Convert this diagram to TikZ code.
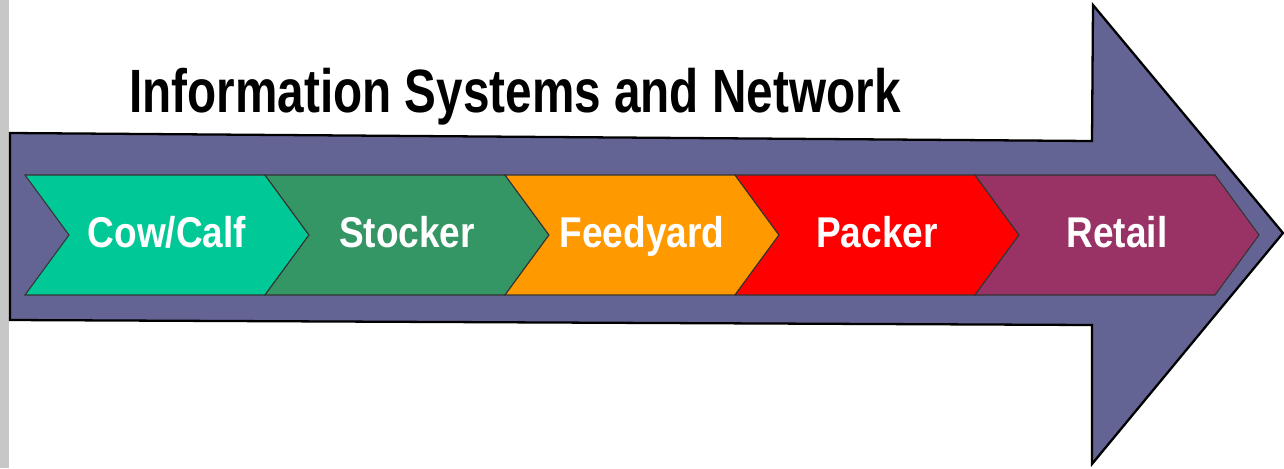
\documentclass[tikz,border=0pt]{standalone}
\usepackage{fontspec}
\setmainfont{Liberation Sans}
\usetikzlibrary{positioning}
\definecolor{flowpurple}{RGB}{99,99,148}
\definecolor{cowgreen}{RGB}{0,200,150}
\definecolor{stockgreen}{RGB}{51,150,100}
\definecolor{feedorange}{RGB}{255,153,0}
\definecolor{packred}{RGB}{255,0,0}
\definecolor{retailplum}{RGB}{153,51,102}
\tikzset{stage text/.style={anchor=base,text=white,font=\bfseries\fontsize{24.5}{26}\selectfont,xscale=0.86},
         stage box/.style={draw=black!80,line width=0.6pt}}

\begin{document}
\begin{tikzpicture}[x=0.02cm,y=-0.02cm]
                   \useasboundingbox (0,0) rectangle (1284,468);
                   \fill[black!22] (0,0) rectangle (9,468);
                   \draw[fill=flowpurple,line width=1.3pt,line join=miter]
                     (10,133) -- (1092,141) -- (1093,5) -- (1283,233) -- (1092,464) -- (1092,325) -- (10,320) -- cycle;
                   \node[anchor=base,font=\bfseries\fontsize{34.8}{36}\selectfont,xscale=0.78] (title) at (515,112) {Information Systems and Network};
                   \foreach \xs/\xe/\col/\nm/\txt in {25/265/cowgreen/cow/Cow\slash Calf,265/505/stockgreen/stocker/Stocker,
                       505/735/feedorange/feedyard/Feedyard,735/975/packred/packer/Packer,975/1215/retailplum/retail/Retail}{
                     \draw[stage box,fill=\col] (\xs,175) -- (\xe,175) -- (\xe+44,235) -- (\xe,295) -- (\xs,295) -- (\xs+44,235) -- cycle;
                     \node[stage text] (st_\nm) at ({(\xs+\xe+44)/2},247) {\txt};
                   }
\end{tikzpicture}
\end{document}
